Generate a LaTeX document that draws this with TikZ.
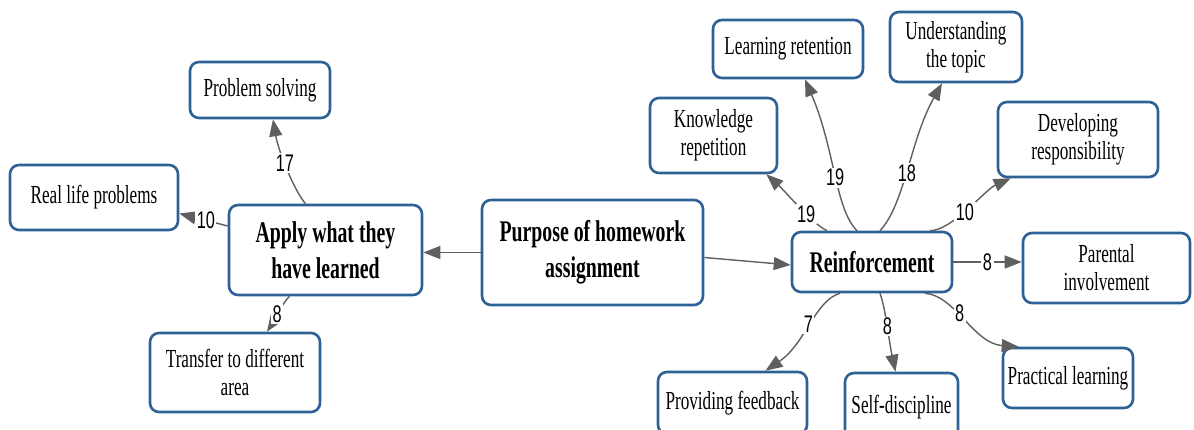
\documentclass[tikz,border=0pt]{standalone}
\usepackage{fontspec}
\setmainfont{Liberation Serif}[FakeStretch=0.66]
\newfontfamily\numfont{Liberation Sans}[FakeStretch=0.68]
\usetikzlibrary{arrows.meta}
\definecolor{boxblue}{RGB}{46,98,150}
\definecolor{arrgray}{RGB}{95,95,95}
\tikzset{
  box/.style={draw=boxblue, line width=2.6pt, rounded corners=9pt, fill=white,
    align=center, inner sep=0pt, font=\fontsize{26}{28}\selectfont},
  bbox/.style={box, font=\bfseries\fontsize{30}{36}\selectfont},
  conn/.style={draw=arrgray, line width=1.4pt, -{Triangle[length=17pt,width=13pt]}},
  lab/.style={fill=white, inner sep=1.5pt, text=black, font=\numfont\fontsize{24}{24}\selectfont},
}
\begin{document}
\begin{tikzpicture}[x=1pt,y=-1pt]
\useasboundingbox (0,0) rectangle (1194,430);
\clip (0,0) rectangle (1194,430);
% nodes
\node[box, minimum width=140pt, minimum height=56pt] (ps) at (260,90) {Problem solving};
\node[box, minimum width=168pt, minimum height=65pt] (rl) at (94,197.5) {Real life problems};
\node[bbox, minimum width=193pt, minimum height=90pt] (ap) at (325.5,250) {Apply what they\\have learned};
\node[box, minimum width=170pt, minimum height=79pt] (tr) at (235,372.5) {Transfer to different\\area};
\node[bbox, minimum width=221pt, minimum height=105pt] (pu) at (592.5,252.5) {Purpose of homework\\assignment};
\node[bbox, minimum width=160pt, minimum height=60pt] (re) at (872,262) {Reinforcement};
\node[box, minimum width=167pt, minimum height=70pt] (pa) at (1106.5,268) {Parental\\involvement};
\node[box, minimum width=149pt, minimum height=62pt] (pf) at (732.5,403) {Providing feedback};
\node[box, minimum width=113pt, minimum height=68pt] (sd) at (901.5,407) {Self-discipline};
\node[box, minimum width=130pt, minimum height=60pt] (pl) at (1068,378) {Practical learning};
\node[box, minimum width=150pt, minimum height=58pt] (lr) at (788,49) {Learning retention};
\node[box, minimum width=132pt, minimum height=70pt] (ut) at (956,47) {Understanding\\the topic};
\node[box, minimum width=127pt, minimum height=75pt] (kr) at (713.5,135.5) {Knowledge\\repetition};
\node[box, minimum width=160pt, minimum height=75pt] (dr) at (1078,139.5) {Developing\\responsibility};
% connectors
\draw[conn] (pu.west) -- (pu.west -| ap.east);
\draw[conn] ([yshift=-5pt]pu.east) -- ([yshift=-3pt]re.west);
\draw[conn] ([xshift=-20pt]ap.north) .. controls +(-12,-14) and +(5,30) .. ([xshift=13pt]ps.south)
  node[lab, pos=0.55] {17};
\draw[conn] ([yshift=24pt]ap.west) -- ([yshift=-16pt]rl.east)
  node[lab, pos=0.45] {10};
\draw[conn] ([xshift=-36pt]ap.south) .. controls +(-8,8) and +(8,-12) .. ([xshift=32pt]tr.north)
  node[lab, pos=0.55] {8};
\draw[conn] ([xshift=-45pt]re.north) .. controls +(-15,-7) and +(20,18) .. ([xshift=-12pt]kr.south east)
  node[lab, pos=0.38] {19};
\draw[conn] ([xshift=-15pt]re.north) .. controls +(-22,-22) and +(30,70) .. ([xshift=17pt]lr.south)
  node[lab, pos=0.47] {19};
\draw[conn] ([xshift=8pt]re.north) .. controls +(25,-27) and +(-32,57) .. ([xshift=-14pt]ut.south)
  node[lab, pos=0.47] {18};
\draw[conn] ([xshift=58pt]re.north) .. controls +(22,0) and +(-25,11) .. ([xshift=14pt]dr.south west)
  node[lab, pos=0.45] {10};
\draw[conn] (re.east) -- (re.east -| pa.west)
  node[lab, pos=0.5] {8};
\draw[conn] ([xshift=-32pt]re.south) .. controls +(-25,7) and +(40,-27) .. ([xshift=33pt]pf.north)
  node[lab, pos=0.5] {7};
\draw[conn] ([xshift=8pt]re.south) .. controls +(6,17) and +(-7,-33) .. ([xshift=-6pt]sd.north)
  node[lab, pos=0.5] {8};
\draw[conn] ([xshift=53pt]re.south) .. controls +(30,2) and +(-45,-3) .. ([xshift=17pt]pl.north west)
  node[lab, pos=0.42] {8};
\end{tikzpicture}
\end{document}
